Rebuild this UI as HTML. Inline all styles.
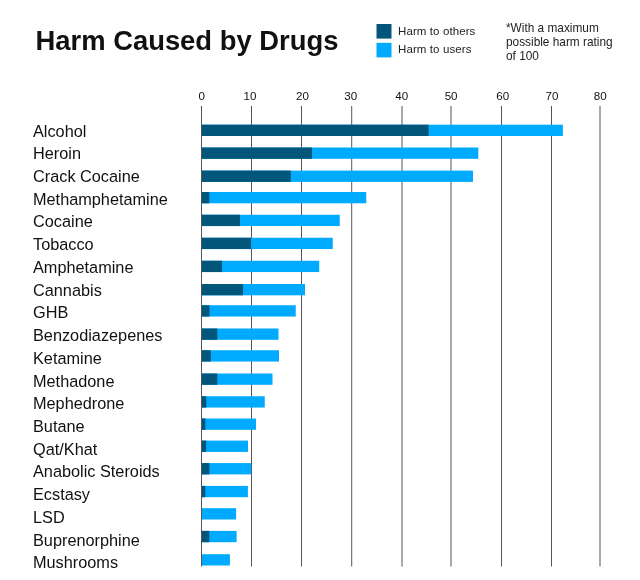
<!DOCTYPE html>
<html><head><meta charset="utf-8"><style>
html,body{margin:0;padding:0;background:#fff;width:640px;height:580px;overflow:hidden}
svg{display:block;will-change:transform}
text{font-family:"Liberation Sans",sans-serif;fill:#111}
</style></head><body>
<svg width="640" height="580" viewBox="0 0 640 580" xmlns="http://www.w3.org/2000/svg">
<rect width="640" height="580" fill="#fff"/>

<text x="35.5" y="50.3" style="font-weight:bold;font-size:27.4px">Harm Caused by Drugs</text>
<rect x="376.5" y="24" width="15" height="14.6" fill="#02567a"/>
<rect x="376.5" y="42.8" width="15" height="14.6" fill="#00aaff"/>
<text x="398" y="35.2" style="font-size:11.5px;letter-spacing:0.1px;fill:#222">Harm to others</text>
<text x="398" y="53" style="font-size:11.5px;letter-spacing:0.1px;fill:#222">Harm to users</text>
<text x="506" y="32" style="font-size:11.85px;fill:#222">*With a maximum</text>
<text x="506" y="45.8" style="font-size:11.85px;fill:#222">possible harm rating</text>
<rect x="201.00" y="106" width="1" height="460.5" fill="#555"/>
<text x="201.70" y="100.1" text-anchor="middle" style="font-size:11.6px">0</text>
<rect x="251.00" y="106" width="1" height="460.5" fill="#555"/>
<text x="250.00" y="100.1" text-anchor="middle" style="font-size:11.6px">10</text>
<rect x="301.00" y="106" width="1" height="460.5" fill="#555"/>
<text x="302.50" y="100.1" text-anchor="middle" style="font-size:11.6px">20</text>
<rect x="351.20" y="106" width="1" height="460.5" fill="#555"/>
<text x="350.70" y="100.1" text-anchor="middle" style="font-size:11.6px">30</text>
<rect x="401.50" y="106" width="1" height="460.5" fill="#555"/>
<text x="401.80" y="100.1" text-anchor="middle" style="font-size:11.6px">40</text>
<rect x="450.50" y="106" width="1" height="460.5" fill="#555"/>
<text x="451.10" y="100.1" text-anchor="middle" style="font-size:11.6px">50</text>
<rect x="501.00" y="106" width="1" height="460.5" fill="#555"/>
<text x="502.80" y="100.1" text-anchor="middle" style="font-size:11.6px">60</text>
<rect x="551.00" y="106" width="1" height="460.5" fill="#555"/>
<text x="551.90" y="100.1" text-anchor="middle" style="font-size:11.6px">70</text>
<rect x="599.50" y="106" width="1" height="460.5" fill="#555"/>
<text x="600.25" y="100.1" text-anchor="middle" style="font-size:11.6px">80</text>
<text x="506" y="59.5" style="font-size:11.85px;fill:#222">of 100</text>
<rect x="202" y="124.70" width="360.90" height="11.3" fill="#00aaff"/>
<rect x="202" y="124.70" width="226.60" height="11.3" fill="#02567a"/>
<text x="33" y="136.60" style="font-size:16.3px">Alcohol</text>
<rect x="202" y="147.50" width="276.30" height="11.3" fill="#00aaff"/>
<rect x="202" y="147.50" width="110.00" height="11.3" fill="#02567a"/>
<text x="33" y="159.32" style="font-size:16.3px">Heroin</text>
<rect x="202" y="170.60" width="271.00" height="11.3" fill="#00aaff"/>
<rect x="202" y="170.60" width="88.75" height="11.3" fill="#02567a"/>
<text x="33" y="182.04" style="font-size:16.3px">Crack Cocaine</text>
<rect x="202" y="192.00" width="164.25" height="11.3" fill="#00aaff"/>
<rect x="202" y="192.00" width="7.25" height="11.3" fill="#02567a"/>
<text x="33" y="204.76" style="font-size:16.3px">Methamphetamine</text>
<rect x="202" y="214.75" width="137.75" height="11.3" fill="#00aaff"/>
<rect x="202" y="214.75" width="38.00" height="11.3" fill="#02567a"/>
<text x="33" y="227.48" style="font-size:16.3px">Cocaine</text>
<rect x="202" y="237.75" width="130.75" height="11.3" fill="#00aaff"/>
<rect x="202" y="237.75" width="49.00" height="11.3" fill="#02567a"/>
<text x="33" y="250.20" style="font-size:16.3px">Tobacco</text>
<rect x="202" y="260.75" width="117.25" height="11.3" fill="#00aaff"/>
<rect x="202" y="260.75" width="20.00" height="11.3" fill="#02567a"/>
<text x="33" y="272.92" style="font-size:16.3px">Amphetamine</text>
<rect x="202" y="284.00" width="103.00" height="11.3" fill="#00aaff"/>
<rect x="202" y="284.00" width="41.00" height="11.3" fill="#02567a"/>
<text x="33" y="295.64" style="font-size:16.3px">Cannabis</text>
<rect x="202" y="305.25" width="93.75" height="11.3" fill="#00aaff"/>
<rect x="202" y="305.25" width="7.50" height="11.3" fill="#02567a"/>
<text x="33" y="318.36" style="font-size:16.3px">GHB</text>
<rect x="202" y="328.50" width="76.50" height="11.3" fill="#00aaff"/>
<rect x="202" y="328.50" width="15.25" height="11.3" fill="#02567a"/>
<text x="33" y="341.08" style="font-size:16.3px">Benzodiazepenes</text>
<rect x="202" y="350.25" width="77.00" height="11.3" fill="#00aaff"/>
<rect x="202" y="350.25" width="8.75" height="11.3" fill="#02567a"/>
<text x="33" y="363.80" style="font-size:16.3px">Ketamine</text>
<rect x="202" y="373.50" width="70.50" height="11.3" fill="#00aaff"/>
<rect x="202" y="373.50" width="15.25" height="11.3" fill="#02567a"/>
<text x="33" y="386.52" style="font-size:16.3px">Methadone</text>
<rect x="202" y="396.25" width="62.75" height="11.3" fill="#00aaff"/>
<rect x="202" y="396.25" width="4.25" height="11.3" fill="#02567a"/>
<text x="33" y="409.24" style="font-size:16.3px">Mephedrone</text>
<rect x="202" y="418.50" width="54.00" height="11.3" fill="#00aaff"/>
<rect x="202" y="418.50" width="3.40" height="11.3" fill="#02567a"/>
<text x="33" y="431.96" style="font-size:16.3px">Butane</text>
<rect x="202" y="440.60" width="46.00" height="11.3" fill="#00aaff"/>
<rect x="202" y="440.60" width="4.10" height="11.3" fill="#02567a"/>
<text x="33" y="454.68" style="font-size:16.3px">Qat/Khat</text>
<rect x="202" y="463.10" width="49.25" height="11.3" fill="#00aaff"/>
<rect x="202" y="463.10" width="7.40" height="11.3" fill="#02567a"/>
<text x="33" y="477.40" style="font-size:16.3px">Anabolic Steroids</text>
<rect x="202" y="485.90" width="45.90" height="11.3" fill="#00aaff"/>
<rect x="202" y="485.90" width="3.30" height="11.3" fill="#02567a"/>
<text x="33" y="500.12" style="font-size:16.3px">Ecstasy</text>
<rect x="202" y="508.20" width="34.10" height="11.3" fill="#00aaff"/>
<text x="33" y="522.84" style="font-size:16.3px">LSD</text>
<rect x="202" y="530.90" width="34.60" height="11.3" fill="#00aaff"/>
<rect x="202" y="530.90" width="7.30" height="11.3" fill="#02567a"/>
<text x="33" y="545.56" style="font-size:16.3px">Buprenorphine</text>
<rect x="202" y="554.20" width="27.90" height="11.3" fill="#00aaff"/>
<text x="33" y="568.28" style="font-size:16.3px">Mushrooms</text>
</svg></body></html>
